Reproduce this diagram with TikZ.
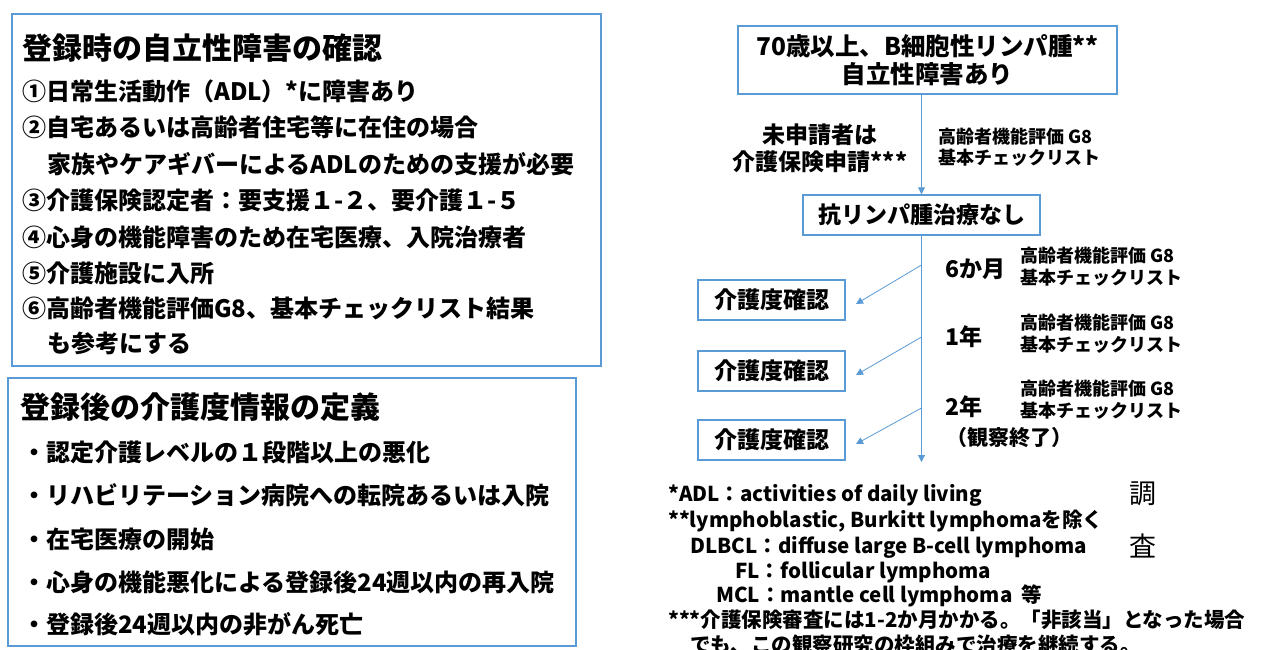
\documentclass[tikz,border=0pt]{standalone}
\usepackage{fontspec}
\setmainfont{Noto Sans CJK JP}
\usetikzlibrary{arrows.meta}
\definecolor{bl}{HTML}{5B9BD5}
\begin{document}
\begin{tikzpicture}[x=1pt,y=-1pt,
  base/.style={inner sep=0pt, anchor=west},
  ttl/.style={base, font=\bfseries\fontsize{30}{34}\selectfont, text height=26.4pt, text depth=3.6pt},
  itm/.style={base, font=\bfseries\fontsize{24}{28}\selectfont, text height=21pt, text depth=3pt},
  mid/.style={inner sep=0pt, font=\bfseries\fontsize{23}{28}\selectfont, text height=20pt, text depth=3pt},
  sml/.style={base, font=\bfseries\fontsize{18}{21}\selectfont, text height=15.8pt, text depth=2.2pt},
  note/.style={base, font=\bfseries\fontsize{20.5}{24}\selectfont, text height=18pt, text depth=2.5pt},
  big/.style={inner sep=0pt, font=\fontsize{27}{30}\selectfont},
  frame/.style={draw=bl, line width=1.5pt, inner sep=0pt},
  conn/.style={draw=bl, line width=0.8pt},
  tip/.style={-{Triangle[width=7pt,length=7pt]}}]
\useasboundingbox (0,0) rectangle (1266,650);
\clip (0,0) rectangle (1266,650);
\fill[white] (0,0) rectangle (1266,650);

% left top box
\node[frame, minimum width=589pt, minimum height=352pt] (boxA) at (306.5,190) {};
\node[ttl] (tA) at (22,48) {登録時の自立性障害の確認};
\node[itm] (a1) at (22,92) {①日常生活動作（ADL）*に障害あり};
\node[itm] (a2) at (22,128) {②自宅あるいは高齢者住宅等に在住の場合};
\node[itm] (a2b) at (47,164) {家族やケアギバーによるADLのための支援が必要};
\node[itm] (a3) at (22,200) {③介護保険認定者：要支援１-２、要介護１-５};
\node[itm] (a4) at (22,237) {④心身の機能障害のため在宅医療、入院治療者};
\node[itm] (a5) at (22,273) {⑤介護施設に入所};
\node[itm] (a6) at (22,308) {⑥高齢者機能評価G8、基本チェックリスト結果};
\node[itm] (a6b) at (47,343) {も参考にする};

% left bottom box
\node[frame, minimum width=568pt, minimum height=268pt] (boxB) at (292,512) {};
\node[ttl] (tB) at (20,407) {登録後の介護度情報の定義};
\node[itm] (b1) at (22,452) {・認定介護レベルの１段階以上の悪化};
\node[itm] (b2) at (22,495) {・リハビリテーション病院への転院あるいは入院};
\node[itm] (b3) at (22,539) {・在宅医療の開始};
\node[itm] (b4) at (22,582) {・心身の機能悪化による登録後24週以内の再入院};
\node[itm] (b5) at (22,624) {・登録後24週以内の非がん死亡};

% right flow
\node[frame, minimum width=379pt, minimum height=68pt, align=center, font=\bfseries\fontsize{24.5}{28}\selectfont] (r1) at (927.5,60) {70歳以上、B細胞性リンパ腫**\\自立性障害あり};
\node[mid] (ap1) at (820,135) {未申請者は};
\node[mid] (ap2) at (820,162) {介護保険申請***};
\node[sml] (s0a) at (938,137) {高齢者機能評価 G8};
\node[sml] (s0b) at (938,158) {基本チェックリスト};
\node[frame, mid, minimum width=237pt, minimum height=40pt] (r2) at (921.5,215) {抗リンパ腫治療なし};

\node[frame, mid, minimum width=147pt, minimum height=40pt] (k1) at (771.5,300) {介護度確認};
\node[frame, mid, minimum width=147pt, minimum height=40pt] (k2) at (771.5,371) {介護度確認};
\node[frame, mid, minimum width=147pt, minimum height=40pt] (k3) at (771.5,440) {介護度確認};

\node[mid, anchor=west] (m6) at (945,269) {6か月};
\node[sml] (s1a) at (1020,256) {高齢者機能評価 G8};
\node[sml] (s1b) at (1020,278) {基本チェックリスト};
\node[mid, anchor=west] (y1) at (945,337) {1年};
\node[sml] (s2a) at (1020,323) {高齢者機能評価 G8};
\node[sml] (s2b) at (1020,345) {基本チェックリスト};
\node[mid, anchor=west] (y2) at (945,407) {2年};
\node[sml] (s3a) at (1020,389) {高齢者機能評価 G8};
\node[sml] (s3b) at (1020,411) {基本チェックリスト};
\node[mid, anchor=west, font=\bfseries\fontsize{21}{24}\selectfont] (obs) at (946,437) {（観察終了）};

\coordinate (vend) at (921.5,462);
\coordinate (d1) at (921.5,265);
\coordinate (d2) at (921.5,337);
\coordinate (d3) at (921.5,408);
\coordinate (e1) at (856,304);
\coordinate (e2) at (856,375);
\coordinate (e3) at (856,444);
\draw[conn,tip] (r2.north |- r1.south) -- (r2.north);
\draw[conn,tip] (r2.south) -- (vend);
\draw[conn,tip] (d1) -- (e1);
\draw[conn,tip] (d2) -- (e2);
\draw[conn,tip] (d3) -- (e3);

% notes
\node[note] (n1) at (668,494) {*ADL：activities of daily living};
\node[note] (n2) at (668,520) {**lymphoblastic, Burkitt lymphomaを除く};
\node[note] (n3) at (690,546) {DLBCL：diffuse large B-cell lymphoma};
\node[note] (n4) at (735,571) {FL：follicular lymphoma};
\node[note] (n5) at (716,595) {MCL：mantle cell lymphoma\ \ 等};
\node[note] (n6) at (668,620) {***介護保険審査には1-2か月かかる。「非該当」となった場合};
\node[note] (n7) at (690,645) {でも、この観察研究の枠組みで治療を継続する。};
\node[big] (c1) at (1143,494) {調};
\node[big] (c2) at (1143,546) {査};
\end{tikzpicture}
\end{document}
